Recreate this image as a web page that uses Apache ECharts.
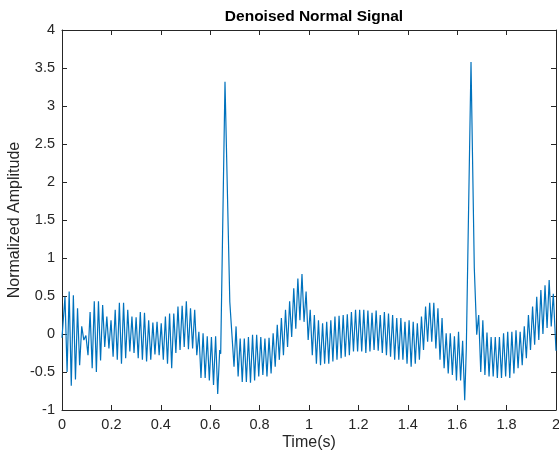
<!DOCTYPE html>
<html>
<head>
<meta charset="utf-8">
<script src="https://cdn.jsdelivr.net/npm/echarts@6/dist/echarts.min.js"></script>
<style>
html,body{margin:0;padding:0;background:#fff;}
#chart{width:559px;height:458px;}
</style>
</head>
<body>
<div id="chart"></div>
<script>
// ---- data (time in s, normalized amplitude) ----
const titleText = 'Denoised Normal Signal';
const xLabel = 'Time(s)';
const yLabel = 'Normalized Amplitude';
const xTicks = [0, 0.2, 0.4, 0.6, 0.8, 1, 1.2, 1.4, 1.6, 1.8, 2];
const yTicks = [-1, -0.5, 0, 0.5, 1, 1.5, 2, 2.5, 3, 3.5, 4];

const startPoint = [0, -0.05];

// alternating peaks/troughs, evenly spaced between segment start and end times
const seg1 = {t0: 0.0121, t1: 0.6304, values: [
  0.49, -0.50, 0.56, -0.68, 0.51, -0.60, 0.34, -0.41, 0.10, -0.08,
  -0.02, -0.28, 0.29, -0.45, 0.43, -0.50, 0.43, -0.35, 0.38, -0.17,
  0.23, -0.19, 0.18, -0.30, 0.32, -0.34, 0.41, -0.39, 0.41, -0.32,
  0.32, -0.23, 0.23, -0.25, 0.22, -0.32, 0.29, -0.34, 0.28, -0.36,
  0.18, -0.34, 0.15, -0.27,
  0.16, -0.28, 0.14, -0.34, 0.23, -0.39, 0.27, -0.45, 0.27, -0.25,
  0.36, -0.21, 0.37, -0.17, 0.43, -0.20, 0.34, -0.19, 0.32, -0.28,
  0.03, -0.58, 0.01, -0.58, -0.03, -0.61, -0.04, -0.67, -0.03, -0.79
]};

const qrs1 = [[0.6385, -0.21], [0.6425, -0.26], [0.6599, 3.32], [0.6794, 0.42], [0.6850, 0.14]];

const seg2 = {t0: 0.6964, t1: 1.6304, values: [
  -0.43, 0.10, -0.56, -0.06, -0.63, -0.06, -0.63, -0.04, -0.64, -0.01,
  -0.61, -0.01, -0.56, -0.04, -0.54, -0.06, -0.56, -0.05, -0.52, 0.01,
  -0.43, 0.12, -0.34, 0.21, -0.28, 0.32, -0.17, 0.43, -0.04, 0.60,
  0.07, 0.73, 0.18, 0.79, 0.16, 0.56, -0.08, 0.32, -0.28, 0.25,
  -0.39, 0.18, -0.41, 0.14, -0.39, 0.16, -0.39, 0.18, -0.36, 0.23,
  -0.34, 0.24, -0.32, 0.25, -0.30, 0.26, -0.28, 0.29, -0.23, 0.32,
  -0.23, 0.32, -0.23, 0.32, -0.25, 0.31, -0.23, 0.28, -0.21, 0.31,
  -0.22, 0.25, -0.25, 0.29, -0.28, 0.27, -0.30, 0.25, -0.34, 0.21,
  -0.34, 0.21, -0.34, 0.16, -0.39, 0.18, -0.43, 0.16, -0.39, 0.14,
  -0.34, 0.23, -0.21, 0.36, -0.10, 0.41, -0.10, 0.41, -0.19, 0.34,
  -0.34, 0.21, -0.45, 0.01, -0.52, 0.01, -0.54, -0.03, -0.61, 0.03,
  -0.61, -0.09, -0.87
]};

const qrs2 = [[1.6368, -0.20], [1.6559, 3.58], [1.6692, 0.87], [1.6733, 0.85], [1.6790, -0.01]];

const seg3 = {t0: 1.6870, t1: 1.9891, values: [
  0.25, -0.50, 0.18, -0.54, 0.02, -0.56, -0.04, -0.56, -0.04, -0.58,
  -0.04, -0.58, 0.01, -0.56, 0.03, -0.58, 0.03, -0.52, 0.05, -0.45,
  0.03, -0.41, 0.10, -0.32, 0.25, -0.21, 0.36, -0.14, 0.49, -0.08,
  0.58, 0.00, 0.64, 0.08, 0.71, 0.10, 0.53
]};

const endPoint = [2.0, -0.22];

// ---- assemble series ----
function segPoints(seg) {
  const n = seg.values.length;
  const step = (seg.t1 - seg.t0) / (n - 1);
  return seg.values.map((v, i) => [seg.t0 + i * step, v]);
}
const signal = [startPoint]
  .concat(segPoints(seg1), qrs1, segPoints(seg2), qrs2, segPoints(seg3), [endPoint]);

const axisColor = '#262626';
const fontFamily = '"Liberation Sans", Arial, Helvetica, sans-serif';

const chart = echarts.init(document.getElementById('chart'), null, {renderer: 'canvas'});
const baseX = {
  type: 'value', min: xTicks[0], max: xTicks[xTicks.length - 1], interval: 0.2,
  axisLine: {show: true, onZero: false, lineStyle: {color: axisColor, width: 1}},
  axisTick: {show: true, inside: true, length: 5, lineStyle: {color: axisColor}},
  splitLine: {show: false}
};
const baseY = {
  type: 'value', min: yTicks[0], max: yTicks[yTicks.length - 1], interval: 0.5,
  axisLine: {show: true, onZero: false, lineStyle: {color: axisColor, width: 1}},
  axisTick: {show: true, inside: true, length: 5, lineStyle: {color: axisColor}},
  splitLine: {show: false}
};
chart.setOption({
  animation: false,
  backgroundColor: '#ffffff',
  title: {
    text: titleText, left: 309, top: 4, textAlign: 'center',
    textStyle: {fontFamily: fontFamily, fontSize: 15.5, fontWeight: 'bold', color: '#000'}
  },
  grid: {left: 62, right: 3, top: 30, bottom: 48, containLabel: false, outerBoundsMode: 'none'},
  xAxis: [
    Object.assign({}, baseX, {
      position: 'bottom',
      name: xLabel, nameLocation: 'middle', nameGap: 25, nameMoveOverlap: false,
      nameTextStyle: {fontFamily: fontFamily, fontSize: 16, color: axisColor},
      axisLabel: {show: true, margin: 7, fontFamily: fontFamily, fontSize: 14.5, color: axisColor}
    }),
    Object.assign({}, baseX, {position: 'top', axisLabel: {show: false}})
  ],
  yAxis: [
    Object.assign({}, baseY, {
      position: 'left',
      name: yLabel, nameLocation: 'middle', nameGap: 39, nameRotate: 90, nameMoveOverlap: false,
      nameTextStyle: {fontFamily: fontFamily, fontSize: 16, color: axisColor},
      axisLabel: {show: true, margin: 7, fontFamily: fontFamily, fontSize: 14.5, color: axisColor}
    }),
    Object.assign({}, baseY, {position: 'right', axisLabel: {show: false}})
  ],
  series: [{
    type: 'line', xAxisIndex: 0, yAxisIndex: 0,
    data: signal, showSymbol: false, symbol: 'none',
    lineStyle: {color: '#0072BD', width: 1.2}, smooth: false
  }]
});
</script>
</body>
</html>
